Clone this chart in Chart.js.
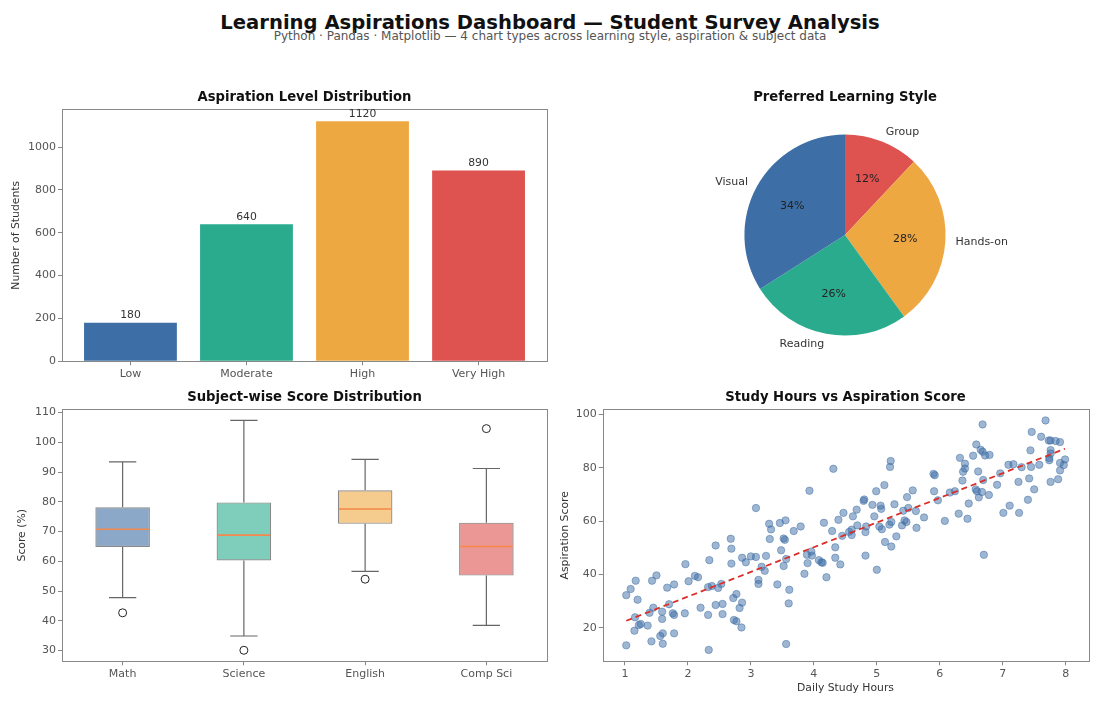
<!DOCTYPE html>
<html>
<head>
<meta charset="utf-8">
<script src="https://cdn.jsdelivr.net/npm/chart.js@4.4.1/dist/chart.umd.min.js"></script>
<style>
  body { margin: 0; background: #ffffff; }
  #wrap { position: relative; width: 1100px; height: 707px; overflow: hidden; font-family: 'DejaVu Sans', sans-serif; }
  canvas { position: absolute; }
  .head { position: absolute; left: 0; width: 1100px; text-align: center; white-space: nowrap; }
  #title { top: 10px; font-size: 19.6px; font-weight: bold; color: #111; line-height: 25px; }
  #subtitle { top: 28.5px; font-size: 12px; color: #555; line-height: 15px; }
</style>
</head>
<body>
<div id="wrap">
  <div id="title" class="head">Learning Aspirations Dashboard — Student Survey Analysis</div>
  <div id="subtitle" class="head">Python · Pandas · Matplotlib — 4 chart types across learning style, aspiration &amp; subject data</div>
  <canvas id="barChart" width="560" height="317" style="left:0px;top:78px"></canvas>
  <canvas id="pieChart" width="510" height="317" style="left:590px;top:78px"></canvas>
  <canvas id="boxChart" width="560" height="329" style="left:0px;top:378px"></canvas>
  <canvas id="scatterChart" width="545" height="329" style="left:555px;top:378px"></canvas>
</div>
<script>
// aspiration levels (bar)
const aspirationLevels = ["Low", "Moderate", "High", "Very High"];
const aspirationCounts = [180, 640, 1120, 890];
const countTicks = [0, 200, 400, 600, 800, 1000];

// learning style (pie), clockwise from top
const styleLabels = ["Group", "Hands-on", "Reading", "Visual"];
const styleShares = [12, 28, 26, 34];

// subject scores (box)
const subjects = ["Math", "Science", "English", "Comp Sci"];
const whiskerLow = [47.8, 34.9, 56.6, 38.5];
const quartile1 = [64.8, 60.3, 72.6, 55.2];
const medians = [70.8, 68.8, 77.6, 65.0];
const quartile3 = [78.2, 79.8, 83.9, 73.0];
const whiskerHigh = [93.4, 107.4, 94.3, 91.2];
const outlierSubject = ["Math", "Science", "English", "Comp Sci"];
const outlierScore = [42.7, 30.1, 54.0, 104.6];
const scoreTicks = [30, 40, 50, 60, 70, 80, 90, 100, 110];

// study hours vs aspiration (scatter)
const studyHours = [
  1.02, 1.02, 1.09, 1.17, 1.2, 1.16, 1.15, 1.22, 1.25, 1.36, 1.39, 1.43, 1.45, 1.42, 1.5,
  1.56, 1.59, 1.59, 1.6, 1.6, 1.67, 1.7, 1.76, 1.78, 1.78, 1.78, 1.95, 1.96, 2.01, 2.11,
  2.16, 2.2, 2.32, 2.33, 2.34, 2.32, 2.38, 2.44, 2.44, 2.48, 2.53, 2.55, 2.55, 2.68, 2.69,
  2.69, 2.72, 2.73, 2.77, 2.77, 2.82, 2.86, 2.86, 2.85, 2.92, 3.0, 3.08, 3.08, 3.12, 3.12,
  3.17, 3.22, 3.24, 3.29, 3.3, 3.32, 3.42, 3.46, 3.48, 3.52, 3.54, 3.55, 3.56, 3.52, 3.56,
  3.6, 3.61, 3.68, 3.79, 3.85, 3.89, 3.9, 3.93, 3.96, 3.97, 4.08, 4.12, 4.14, 4.16, 4.2,
  4.31, 4.29, 4.34, 4.34, 4.39, 4.42, 4.45, 4.47, 4.56, 4.6, 4.6, 4.62, 4.68, 4.69, 4.79,
  4.8, 4.82, 4.83, 4.82, 4.93, 4.96, 4.99, 5.0, 5.04, 5.06, 5.07, 5.08, 5.12, 5.13, 5.21,
  5.22, 5.2, 5.23, 5.23, 5.28, 5.31, 5.4, 5.42, 5.44, 5.47, 5.48, 5.5, 5.57, 5.62, 5.63,
  5.75, 5.9, 5.92, 5.91, 5.97, 6.08, 6.16, 6.24, 6.3, 6.32, 6.36, 6.37, 6.4, 6.4, 6.44,
  6.46, 6.53, 6.58, 6.57, 6.59, 6.61, 6.62, 6.65, 6.68, 6.68, 6.67, 6.69, 6.7, 6.72, 6.79,
  6.78, 6.91, 6.96, 7.01, 7.09, 7.11, 7.17, 7.25, 7.26, 7.3, 7.4, 7.42, 7.44, 7.46, 7.45,
  7.5, 7.58, 7.61, 7.68, 7.73, 7.76, 7.74, 7.74, 7.76, 7.76, 7.76, 7.84, 7.88, 7.91, 7.91,
  7.91, 7.97, 7.99
];
const aspirationScores = [
  13.5, 32.3, 34.6, 37.7, 30.6, 24.0, 19.0, 21.1, 21.5, 20.9, 25.7, 37.7, 27.6, 15.0, 39.7,
  17.0, 26.1, 23.4, 18.0, 14.1, 35.1, 28.9, 25.5, 24.9, 36.3, 18.0, 25.5, 43.9, 37.5, 39.5,
  39.0, 27.6, 24.9, 11.8, 45.4, 35.3, 35.7, 50.9, 28.6, 35.0, 36.5, 29.0, 25.2, 53.4, 49.7,
  44.1, 31.2, 23.0, 22.5, 32.7, 27.5, 46.3, 29.5, 20.2, 44.6, 46.8, 46.6, 64.9, 38.0, 36.5,
  42.9, 41.4, 47.0, 59.0, 53.3, 56.9, 36.3, 59.3, 49.1, 53.5, 53.0, 60.3, 45.8, 43.2, 14.0,
  29.2, 34.3, 56.3, 58.0, 40.3, 47.4, 44.3, 71.4, 48.6, 47.1, 45.4, 44.6, 44.4, 59.4, 39.0,
  79.6, 56.3, 50.2, 46.3, 60.5, 43.8, 54.5, 63.1, 56.0, 54.8, 56.8, 61.8, 64.3, 58.4, 67.6,
  68.1, 55.9, 58.0, 47.1, 66.1, 61.8, 71.2, 41.8, 58.0, 65.8, 64.6, 57.0, 73.5, 52.2, 80.3,
  82.5, 58.7, 59.7, 50.5, 66.3, 54.3, 58.4, 63.9, 60.3, 59.7, 69.0, 64.9, 71.5, 63.8, 57.5,
  61.4, 77.7, 77.2, 71.2, 67.8, 60.1, 70.7, 71.2, 62.8, 83.7, 75.2, 78.5, 79.7, 81.5, 60.9,
  66.6, 84.5, 88.7, 71.9, 71.2, 78.6, 68.9, 86.7, 96.2, 86.0, 70.9, 75.4, 47.4, 84.6, 84.8,
  69.8, 73.6, 77.9, 63.1, 81.1, 65.8, 81.3, 74.7, 63.1, 80.2, 68.0, 76.0, 86.5, 93.4, 80.3,
  71.9, 81.1, 91.6, 97.7, 90.2, 90.2, 83.6, 82.8, 86.6, 85.3, 74.7, 90.0, 75.7, 79.0, 89.6,
  81.8, 81.0, 83.1
];
const trendHours = [1.02, 7.99];
const trendScores = [22.7, 87.1];
const hourTicks = [1, 2, 3, 4, 5, 6, 7, 8];
const aspirationTicks = [20, 40, 60, 80, 100];

const palette = ["#3d6ea5", "#2aab8e", "#eea842", "#de524f"];
const styleColors = ["#de524f", "#eea842", "#2aab8e", "#3d6ea5"];
const boxFill = ["rgba(61,110,165,0.6)", "rgba(42,171,142,0.6)", "rgba(238,168,66,0.6)", "rgba(222,82,79,0.6)"];

Chart.defaults.font.family = "'DejaVu Sans', sans-serif";
Chart.defaults.font.size = 10.8;
Chart.defaults.color = "#555";

// border round the plot area, like matplotlib spines
const framePlugin = {
  id: "frame",
  afterDatasetsDraw(chart) {
    const a = chart.chartArea, ctx = chart.ctx;
    ctx.save();
    ctx.strokeStyle = "#888";
    ctx.lineWidth = 1;
    ctx.strokeRect(Math.round(a.left) + 0.5, Math.round(a.top) + 0.5, Math.round(a.right - a.left), Math.round(a.bottom - a.top));
    ctx.restore();
  }
};

function titleOpts(text) {
  return {
    display: true, text: text, fullSize: false, color: "#111",
    font: { size: 13.2, weight: "bold", lineHeight: 1.2 },
    padding: { top: 12, bottom: 3.46 }
  };
}

function axisOpts(tickList, size, extra, tickFmt) {
  const o = Object.assign({
    offset: false,
    grid: { display: true, offset: false, drawOnChartArea: false, drawTicks: true, tickLength: 4, color: "#888" },
    border: { display: false },
    ticks: { color: "#555", padding: 2, autoSkip: false, maxRotation: 0, font: { size: 11 }, callback: tickFmt || (v => String(v)) },
    afterFit(s) { if (s.isHorizontal()) s.height = size; else s.width = size; }
  }, extra || {});
  if (tickList) o.afterBuildTicks = s => { s.ticks = tickList.map(v => ({ value: v })); };
  return o;
}

// ---- bar chart
new Chart(document.getElementById("barChart"), {
  type: "bar",
  data: {
    datasets: [{
      data: aspirationCounts.map((v, i) => ({ x: i, y: v })),
      backgroundColor: palette,
      borderWidth: 0,
      barPercentage: 0.8,
      categoryPercentage: 1
    }]
  },
  options: {
    responsive: false, animation: false,
    layout: { padding: { left: 0, right: 13, top: 0, bottom: 0 } },
    plugins: {
      legend: { display: false }, tooltip: { enabled: false },
      title: titleOpts("Aspiration Level Distribution")
    },
    scales: {
      x: axisOpts(aspirationLevels.map((_, i) => i), 33.7, {
        type: "linear", min: -0.59, max: 3.59
      }, v => aspirationLevels[v]),
      y: axisOpts(countTicks, 62, {
        min: 0, max: 1176,
        title: { display: true, text: "Number of Students", color: "#333", padding: { top: 9.5, bottom: 0 } }
      })
    }
  },
  plugins: [framePlugin, {
    id: "barValues",
    afterDatasetsDraw(chart) {
      const ctx = chart.ctx;
      ctx.save();
      ctx.fillStyle = "#333";
      ctx.font = "10.8px 'DejaVu Sans'";
      ctx.textAlign = "center";
      ctx.textBaseline = "bottom";
      chart.getDatasetMeta(0).data.forEach((bar, i) => {
        ctx.fillText(String(aspirationCounts[i]), bar.x, bar.y - 2);
      });
      ctx.restore();
    }
  }]
});

// ---- pie chart
new Chart(document.getElementById("pieChart"), {
  type: "pie",
  data: {
    labels: styleLabels,
    datasets: [{ data: styleShares, backgroundColor: styleColors, borderWidth: 0 }]
  },
  options: {
    responsive: false, animation: false,
    layout: { padding: { left: 0, right: 0, top: 0, bottom: 59.4 } },
    plugins: {
      legend: { display: false }, tooltip: { enabled: false },
      title: Object.assign(titleOpts("Preferred Learning Style"), { padding: { top: 12, bottom: 28.6 } })
    }
  },
  plugins: [{
    id: "pieText",
    afterDatasetsDraw(chart) {
      const ctx = chart.ctx;
      ctx.save();
      ctx.font = "11px 'DejaVu Sans'";
      ctx.textBaseline = "middle";
      chart.getDatasetMeta(0).data.forEach((arc, i) => {
        const mid = (arc.startAngle + arc.endAngle) / 2;
        const r = arc.outerRadius;
        const cx = Math.cos(mid), cy = Math.sin(mid);
        ctx.fillStyle = "#333";
        ctx.textAlign = cx >= 0 ? "left" : "right";
        ctx.fillText(styleLabels[i], arc.x + cx * r * 1.1, arc.y + cy * r * 1.1);
        ctx.fillStyle = "#222";
        ctx.textAlign = "center";
        ctx.fillText(styleShares[i] + "%", arc.x + cx * r * 0.6, arc.y + cy * r * 0.6);
      });
      ctx.restore();
    }
  }]
});

// ---- box plot
new Chart(document.getElementById("boxChart"), {
  type: "bar",
  data: {
    labels: subjects,
    datasets: [{
      type: "line",
      data: outlierSubject.map((s, i) => ({ x: s, y: outlierScore[i] })),
      showLine: false,
      pointRadius: 4,
      pointBackgroundColor: "rgba(0,0,0,0)",
      pointBorderColor: "#222",
      pointBorderWidth: 1,
      order: 0
    }, {
      type: "bar",
      data: subjects.map((s, i) => [quartile1[i], quartile3[i]]),
      backgroundColor: boxFill,
      borderColor: "rgba(40,40,40,0.55)",
      borderWidth: 1.2,
      borderSkipped: false,
      barPercentage: 0.45,
      categoryPercentage: 1,
      order: 1
    }]
  },
  options: {
    responsive: false, animation: false,
    layout: { padding: { left: 0, right: 13, top: 0, bottom: 0 } },
    plugins: {
      legend: { display: false }, tooltip: { enabled: false },
      title: titleOpts("Subject-wise Score Distribution")
    },
    scales: {
      x: axisOpts(null, 45.7, { offset: true }, function (v) { return this.getLabelForValue(v); }),
      y: axisOpts(scoreTicks, 62, {
        min: 26.4, max: 111.1,
        title: { display: true, text: "Score (%)", color: "#333", padding: { top: 16, bottom: 0 } }
      })
    }
  },
  plugins: [framePlugin, {
    id: "whiskers",
    afterDatasetsDraw(chart) {
      const ctx = chart.ctx, y = chart.scales.y;
      ctx.save();
      chart.getDatasetMeta(1).data.forEach((box, i) => {
        const x = box.x, w = box.width, cap = w / 4;
        const yq1 = y.getPixelForValue(quartile1[i]), yq3 = y.getPixelForValue(quartile3[i]);
        const ylo = y.getPixelForValue(whiskerLow[i]), yhi = y.getPixelForValue(whiskerHigh[i]);
        ctx.strokeStyle = "#666";
        ctx.lineWidth = 1.2;
        ctx.beginPath();
        ctx.moveTo(x, yq3); ctx.lineTo(x, yhi);
        ctx.moveTo(x - cap, yhi); ctx.lineTo(x + cap, yhi);
        ctx.moveTo(x, yq1); ctx.lineTo(x, ylo);
        ctx.moveTo(x - cap, ylo); ctx.lineTo(x + cap, ylo);
        ctx.stroke();
        const ym = y.getPixelForValue(medians[i]);
        ctx.strokeStyle = "#f5884a";
        ctx.lineWidth = 1.6;
        ctx.beginPath();
        ctx.moveTo(x - w / 2 + 1, ym); ctx.lineTo(x + w / 2 - 1, ym);
        ctx.stroke();
      });
      ctx.restore();
    }
  }]
});

// ---- scatter
new Chart(document.getElementById("scatterChart"), {
  type: "scatter",
  data: {
    datasets: [{
      type: "line",
      data: trendHours.map((h, i) => ({ x: h, y: trendScores[i] })),
      borderColor: "#d9302a",
      borderDash: [6, 4],
      borderWidth: 1.8,
      pointRadius: 0,
      fill: false,
      order: 0
    }, {
      data: studyHours.map((h, i) => ({ x: h, y: aspirationScores[i] })),
      backgroundColor: "rgba(61,110,165,0.5)",
      borderColor: "rgba(61,110,165,0.6)",
      borderWidth: 0.8,
      pointRadius: 3.7,
      order: 1
    }]
  },
  options: {
    responsive: false, animation: false,
    layout: { padding: { left: 0, right: 11.7, top: 0, bottom: 0 } },
    plugins: {
      legend: { display: false }, tooltip: { enabled: false },
      title: titleOpts("Study Hours vs Aspiration Score")
    },
    scales: {
      x: axisOpts(hourTicks, 45.7, {
        type: "linear", min: 0.646, max: 8.359,
        title: { display: true, text: "Daily Study Hours", color: "#333", padding: { top: 0, bottom: 12.2 } }
      }),
      y: axisOpts(aspirationTicks, 47.7, {
        min: 7.53, max: 101.87,
        title: { display: true, text: "Aspiration Score", color: "#333", padding: { top: 3.5, bottom: 0 } }
      })
    }
  },
  plugins: [framePlugin]
});
</script>
</body>
</html>
